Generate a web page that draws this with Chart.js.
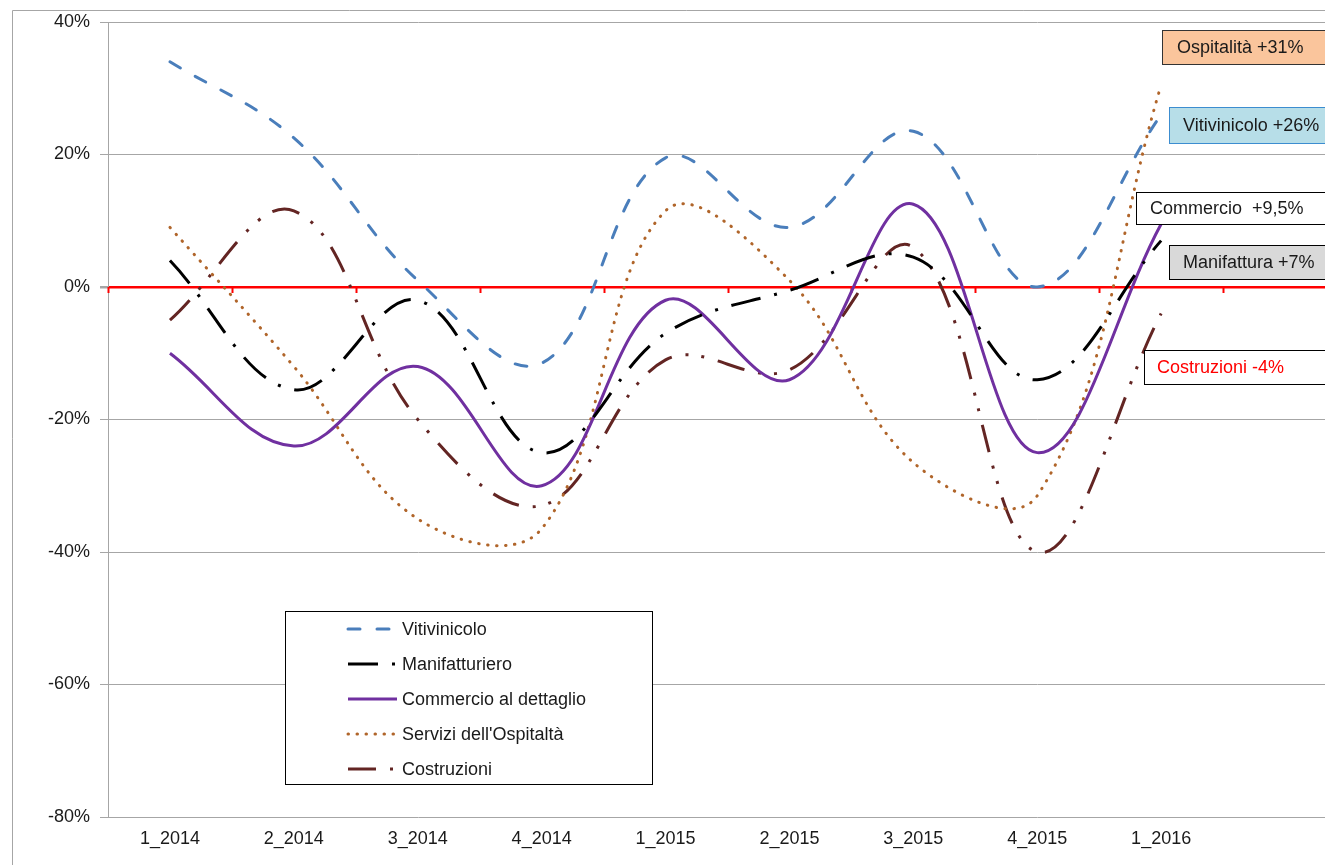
<!DOCTYPE html>
<html>
<head>
<meta charset="utf-8">
<script src="https://cdn.jsdelivr.net/npm/chart.js@4.4.1/dist/chart.umd.min.js"></script>
<style>
html,body{margin:0;padding:0;background:#fff;overflow:hidden;width:1325px;height:865px;}
#wrap{position:absolute;left:0;top:0;width:1360px;height:865px;}
</style>
</head>
<body>
<div id="wrap"><canvas id="c" width="1360" height="865"></canvas></div>
<script>
const categories = ['1_2014','2_2014','3_2014','4_2014','1_2015','2_2015','3_2015','4_2015','1_2016',''];
const seriesNames = ['Vitivinicolo','Manifatturiero','Commercio al dettaglio',"Servizi dell'Ospitaltà",'Costruzioni'];
const vitivinicolo   = [34, 22.5, 1, -11.5, 19.5, 9, 23.5, 0, 26];
const manifatturiero = [4, -15.5, -2, -25, -7, -0.5, 4.5, -14, 7];
const commercio      = [-10, -24, -12, -30, -2, -14, 12.5, -25, 9.5];
const ospitalita     = [9, -12, -35, -36.5, 11.5, 1, -26.5, -31.5, 30.5];
const costruzioni    = [-5, 11.5, -20, -33, -11, -12.5, 6, -40, -4];
const yTicks = [-80, -60, -40, -20, 0, 20, 40];
const calloutTexts = ['Ospitalità +31%','Vitivinicolo +26%','Commercio  +9,5%','Manifattura +7%','Costruzioni -4%'];

const FONT = '18px "Liberation Sans", Arial, sans-serif';
const TXT = '#1a1a1a';

const styles = [
  {color:'#4A7EBB', dash:[12,17], cap:'round'},
  {color:'#000000', dash:[30,14,3,14], cap:'butt'},
  {color:'#7030A0', dash:[], cap:'butt'},
  {color:'#B0652A', dash:[0.5,8.5], cap:'round'},
  {color:'#632523', dash:[28,14,3,13,3,14], cap:'butt'}
];
const seriesData = [vitivinicolo, manifatturiero, commercio, ospitalita, costruzioni];

const datasets = seriesData.map((d,i)=>({
  label: seriesNames[i],
  data: d,
  borderColor: styles[i].color,
  backgroundColor: styles[i].color,
  borderWidth: 3,
  borderDash: styles[i].dash,
  borderCapStyle: styles[i].cap,
  pointRadius: 0,
  tension: 0.38,
  fill: false
}));

const decor = {
  id: 'decor',
  beforeDraw(chart){
    const ctx = chart.ctx;
    ctx.save();
    ctx.strokeStyle = '#A6A6A6';
    ctx.lineWidth = 1;
    ctx.beginPath();
    ctx.moveTo(12.5, 870);
    ctx.lineTo(12.5, 10.5);
    ctx.lineTo(1400, 10.5);
    ctx.stroke();
    ctx.restore();
  },
  beforeDatasetsDraw(chart){
    const ctx = chart.ctx, xs = chart.scales.x, ys = chart.scales.y;
    const y0 = ys.getPixelForValue(0);
    ctx.save();
    ctx.strokeStyle = '#FF0000';
    ctx.lineWidth = 2;
    const n = categories.length;
    const step = xs.getPixelForValue(1) - xs.getPixelForValue(0);
    for (let i = 0; i <= n; i++) {
      const x = Math.round(xs.getPixelForValue(0) - step/2 + i*step) + 0.5;
      ctx.beginPath();
      ctx.moveTo(x, y0);
      ctx.lineTo(x, y0 + 6);
      ctx.stroke();
    }
    ctx.restore();
  },
  afterDraw(chart){
    const ctx = chart.ctx;
    ctx.save();
    // legend
    ctx.fillStyle = '#fff';
    ctx.fillRect(285.5, 611.5, 367, 173);
    ctx.strokeStyle = '#000';
    ctx.lineWidth = 1;
    ctx.strokeRect(285.5, 611.5, 367, 173);
    chart.data.datasets.forEach((ds, i) => {
      const y = 629 + 35*i;
      ctx.save();
      ctx.strokeStyle = ds.borderColor;
      ctx.lineWidth = ds.borderWidth;
      ctx.setLineDash(ds.borderDash);
      ctx.lineCap = ds.borderCapStyle;
      ctx.beginPath();
      ctx.moveTo(348, y);
      ctx.lineTo(397, y);
      ctx.stroke();
      ctx.restore();
      ctx.fillStyle = TXT;
      ctx.font = FONT;
      ctx.textBaseline = 'middle';
      ctx.textAlign = 'left';
      ctx.fillText(ds.label, 402, y + 1);
    });
    // callouts
    const boxes = [
      {x:1162.5, y:30.5, h:34, fill:'#FAC59C', stroke:'#333', color:TXT, tx:1177},
      {x:1169.5, y:107.5, h:36, fill:'#B7DEE8', stroke:'#3C8DD0', color:TXT, tx:1183},
      {x:1136.5, y:192.5, h:32, fill:'#FFFFFF', stroke:'#000', color:TXT, tx:1150},
      {x:1169.5, y:245.5, h:34, fill:'#D9D9D9', stroke:'#000', color:TXT, tx:1183},
      {x:1144.5, y:350.5, h:34, fill:'#FFFFFF', stroke:'#000', color:'#FF0000', tx:1157}
    ];
    boxes.forEach((b, i) => {
      ctx.fillStyle = b.fill;
      ctx.fillRect(b.x, b.y, 400, b.h);
      ctx.strokeStyle = b.stroke;
      ctx.lineWidth = 1;
      ctx.strokeRect(b.x, b.y, 400, b.h);
      ctx.fillStyle = b.color;
      ctx.font = FONT;
      ctx.textBaseline = 'middle';
      ctx.textAlign = 'left';
      ctx.fillText(calloutTexts[i], b.tx, b.y + b.h/2 + 1);
    });
    ctx.restore();
  }
};

new Chart(document.getElementById('c'), {
  type: 'line',
  data: { labels: categories, datasets },
  options: {
    responsive: false,
    animation: false,
    layout: { padding: { left: 0, top: 22, right: 13, bottom: 0 } },
    plugins: { legend: { display: false }, tooltip: { enabled: false } },
    scales: {
      x: {
        type: 'category',
        offset: true,
        grid: { display: false, drawTicks: false },
        border: { display: false },
        ticks: { font: { family: '"Liberation Sans", Arial, sans-serif', size: 18 }, color: TXT, padding: 11, maxRotation: 0, autoSkip: false },
        afterFit(s){ s.height = 48; }
      },
      y: {
        min: -80, max: 40,
        afterBuildTicks(s){ s.ticks = yTicks.map(v => ({value: v})); },
        grid: {
          color: c => (c.tick && c.tick.value === 0) ? '#FF0000' : '#A6A6A6',
          lineWidth: c => (c.tick && c.tick.value === 0) ? 2.5 : 1,
          tickColor: '#A6A6A6',
          tickLength: 8
        },
        border: { display: true, color: '#A6A6A6', width: 1 },
        ticks: {
          font: { family: '"Liberation Sans", Arial, sans-serif', size: 18 },
          color: TXT, padding: 10,
          callback: v => v + '%'
        },
        afterFit(s){ s.width = 108; }
      }
    }
  },
  plugins: [decor]
});
</script>
</body>
</html>
